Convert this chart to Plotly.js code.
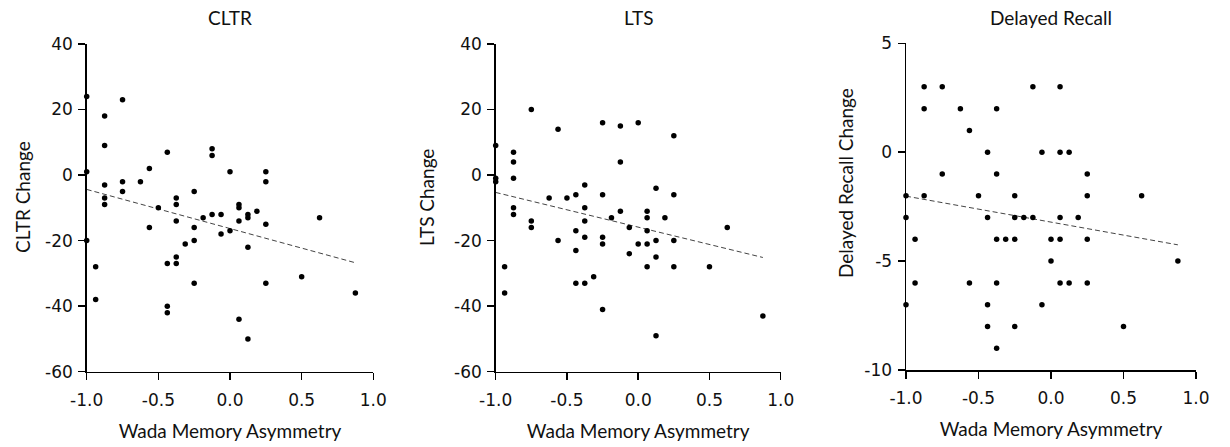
<!DOCTYPE html>
<html><head><meta charset="utf-8">
<script src="https://cdn.plot.ly/plotly-3.0.1.min.js"></script>
<style>html,body{margin:0;padding:0;background:#fff}#chart{width:1230px;height:447px}</style>
</head><body><div id="chart"></div>
<script>
const xTickVals = [-1, -0.5, 0, 0.5, 1];
const xTickText = ['-1.0', '-0.5', '0.0', '0.5', '1.0'];
const changeTickVals = [-60, -40, -20, 0, 20, 40];
const changeTickText = ['-60', '-40', '-20', '0', '20', '40'];
const recallTickVals = [-10, -5, 0, 5];
const recallTickText = ['-10', '-5', '0', '5'];
const panelTitles = ['CLTR', 'LTS', 'Delayed Recall'];
const yTitles = ['CLTR Change', 'LTS Change', 'Delayed Recall Change'];
const xTitle = 'Wada Memory Asymmetry';

const cltrX = [-1,-1,-1,-0.9375,-0.9375,-0.875,-0.875,-0.875,-0.875,-0.875,-0.75,-0.75,-0.75,-0.625,-0.5625,-0.5625,-0.5,-0.4375,-0.4375,-0.4375,-0.4375,-0.375,-0.375,-0.375,-0.375,-0.375,-0.3125,-0.25,-0.25,-0.25,-0.25,-0.1875,-0.125,-0.125,-0.125,-0.0625,-0.0625,0,0,0.0625,0.0625,0.0625,0.0625,0.125,0.125,0.125,0.125,0.1875,0.25,0.25,0.25,0.25,0.5,0.625,0.875];
const cltrY = [24,1,-20,-28,-38,18,9,-3,-7,-9,23,-2,-5,-2,2,-16,-10,7,-27,-40,-42,-7,-9,-14,-25,-27,-21,-5,-16,-20,-33,-13,8,6,-12,-12,-18,1,-17,-9,-10,-14,-44,-12,-13,-22,-50,-11,1,-2,-15,-33,-31,-13,-36];

const ltsX = [-1,-1,-1,-0.9375,-0.9375,-0.875,-0.875,-0.875,-0.875,-0.875,-0.75,-0.75,-0.75,-0.625,-0.5625,-0.5625,-0.5,-0.4375,-0.4375,-0.4375,-0.4375,-0.375,-0.375,-0.375,-0.375,-0.375,-0.3125,-0.25,-0.25,-0.25,-0.25,-0.25,-0.1875,-0.125,-0.125,-0.125,-0.0625,-0.0625,0,0,0.0625,0.0625,0.0625,0.0625,0.0625,0.125,0.125,0.125,0.125,0.1875,0.25,0.25,0.25,0.25,0.5,0.625,0.875];
const ltsY = [9,-1,-2,-28,-36,7,4,-1,-10,-12,20,-14,-16,-7,14,-20,-7,-6,-17,-23,-33,-3,-10,-14,-19,-33,-31,16,-6,-19,-21,-41,-13,15,4,-11,-16,-24,16,-21,-11,-13,-17,-21,-28,-4,-20,-25,-49,-13,12,-6,-20,-28,-28,-16,-43];

const drX = [-1,-1,-1,-0.9375,-0.9375,-0.875,-0.875,-0.875,-0.75,-0.75,-0.625,-0.5625,-0.5625,-0.5,-0.4375,-0.4375,-0.4375,-0.4375,-0.375,-0.375,-0.375,-0.375,-0.375,-0.3125,-0.25,-0.25,-0.25,-0.25,-0.1875,-0.125,-0.125,-0.0625,-0.0625,0,0,0.0625,0.0625,0.0625,0.0625,0.0625,0.125,0.125,0.1875,0.25,0.25,0.25,0.25,0.5,0.625,0.875];
const drY = [-2,-3,-7,-4,-6,3,2,-2,3,-1,2,1,-6,-2,0,-3,-7,-8,2,-1,-4,-6,-9,-4,-2,-3,-4,-8,-3,3,-3,0,-7,-4,-5,3,0,-3,-4,-6,0,-6,-3,-1,-2,-4,-6,-8,-2,-5];

function fitLine(xs, ys) {
  const n = xs.length;
  const mx = xs.reduce((a, b) => a + b, 0) / n;
  const my = ys.reduce((a, b) => a + b, 0) / n;
  let sxy = 0, sxx = 0;
  for (let i = 0; i < n; i++) { sxy += (xs[i] - mx) * (ys[i] - my); sxx += (xs[i] - mx) ** 2; }
  const b = sxy / sxx, a = my - b * mx;
  const x0 = Math.min(...xs), x1 = Math.max(...xs);
  return { x: [x0, x1], y: [a + b * x0, a + b * x1] };
}

const sets = [[cltrX, cltrY], [ltsX, ltsY], [drX, drY]];
const traces = [];
sets.forEach((s, i) => {
  const xa = i === 0 ? 'x' : 'x' + (i + 1);
  const ya = i === 0 ? 'y' : 'y' + (i + 1);
  const f = fitLine(s[0], s[1]);
  traces.push({ type: 'scatter', mode: 'lines', x: f.x, y: f.y, xaxis: xa, yaxis: ya,
    line: { color: '#444', width: 1, dash: '5px,3px' }, cliponaxis: false, hoverinfo: 'skip' });
  traces.push({ type: 'scatter', mode: 'markers', x: s[0], y: s[1], xaxis: xa, yaxis: ya,
    marker: { color: '#000', size: 5.5 }, cliponaxis: false });
});

const W = 1230, H = 447;
const tickFont = { family: 'DejaVu Sans', size: 17, color: '#111' };
const titleFont = { family: 'Lato', size: 19, color: '#111' };
function xax(d0, d1, anchor) {
  return { domain: [d0 / W, d1 / W], anchor: anchor, range: [-1, 1], tickvals: xTickVals, ticktext: xTickText,
    showline: true, linecolor: '#000', linewidth: 1.5, ticks: 'outside', ticklen: 7, tickwidth: 1.5, tickcolor: '#000',
    ticklabelstandoff: 5,
    showgrid: false, zeroline: false, tickfont: tickFont,
    title: { text: xTitle, font: titleFont, standoff: 16 } };
}
function yax(t, b, anchor, rng, tv, tt) {
  return { domain: [1 - b / H, 1 - t / H], anchor: anchor, range: rng, tickvals: tv, ticktext: tt,
    showline: true, linecolor: '#000', linewidth: 1.5, ticks: 'outside', ticklen: 7, tickwidth: 1.5, tickcolor: '#000',
    ticklabelstandoff: 2,
    showgrid: false, zeroline: false, tickfont: tickFont };
}

const plotCenters = [230, 638, 1051];
const yTitleX = [22, 426, 846];
const yTitleY = [197, 197, 183];
const annotations = [];
panelTitles.forEach((t, i) => annotations.push({ text: t, xref: 'paper', yref: 'paper', x: plotCenters[i] / W, y: 1 - 17 / H,
  xanchor: 'center', yanchor: 'middle', showarrow: false, font: { family: 'Lato', size: 19, color: '#111' } }));
yTitles.forEach((t, i) => annotations.push({ text: t, xref: 'paper', yref: 'paper', x: yTitleX[i] / W, y: 1 - yTitleY[i] / H,
  xanchor: 'center', yanchor: 'middle', textangle: -90, showarrow: false, font: titleFont }));

const layout = {
  width: W, height: H, margin: { l: 0, r: 0, t: 0, b: 0 }, showlegend: false,
  paper_bgcolor: '#fff', plot_bgcolor: '#fff',
  xaxis: xax(86.7, 373.3, 'y'),
  xaxis2: xax(495.7, 780.7, 'y2'),
  xaxis3: xax(906, 1196, 'y3'),
  yaxis: yax(44, 371.7, 'x', [-60, 40], changeTickVals, changeTickText),
  yaxis2: yax(44, 371.7, 'x2', [-60, 40], changeTickVals, changeTickText),
  yaxis3: yax(43.3, 370, 'x3', [-10, 5], recallTickVals, recallTickText),
  annotations: annotations
};
Plotly.newPlot('chart', traces, layout, { staticPlot: true, displayModeBar: false });
</script></body></html>
